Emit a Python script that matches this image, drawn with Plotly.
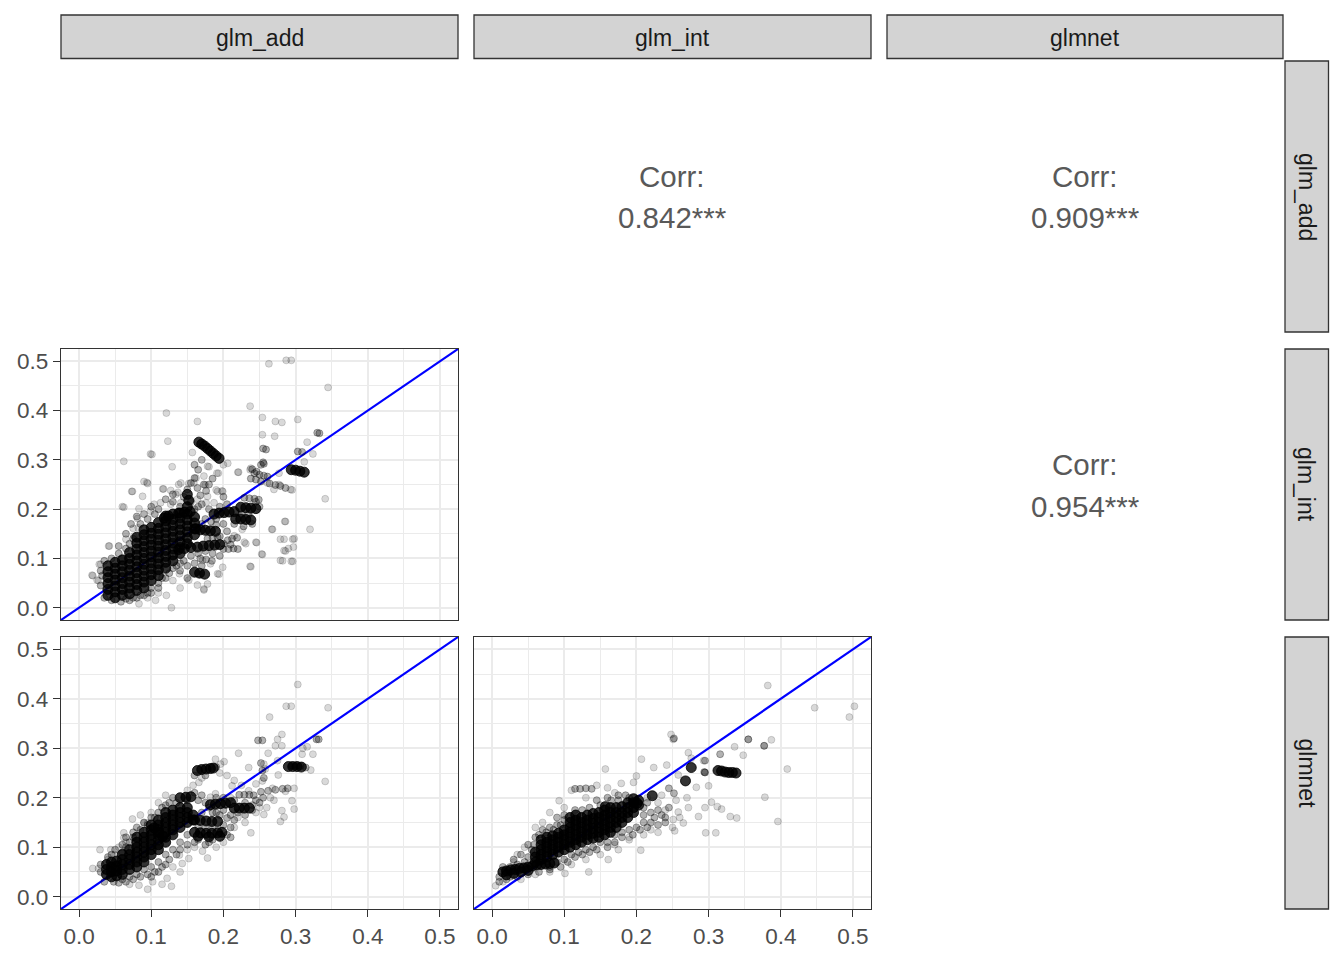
import plotly.graph_objects as go

W, H = 1344, 960
OFF = 8  # page body margin of the html page
FW, FH = W - 2 * OFF, H - 2 * OFF
AX_RANGE = [-0.025, 0.525]

vars_names = ["glm_add", "glm_int", "glmnet"]
corr_labels = {("glm_add", "glm_int"): "0.842***",
               ("glm_add", "glmnet"): "0.909***",
               ("glm_int", "glmnet"): "0.954***"}
tick_vals = [0.0, 0.1, 0.2, 0.3, 0.4, 0.5]

# ---------------- Panel A: x = glm_add, y = glm_int ----------------
A_light = [(0.263,0.495),(0.287,0.502),(0.294,0.502),(0.345,0.447),(0.237,0.409),(0.254,0.386),
(0.303,0.382),(0.272,0.378),(0.281,0.376),(0.121,0.395),(0.164,0.378),(0.123,0.338),(0.254,0.351),
(0.271,0.348),(0.316,0.336),(0.324,0.312),(0.101,0.311),(0.157,0.315),(0.062,0.297),(0.129,0.286),
(0.312,0.296),(0.221,0.275),(0.237,0.280),(0.180,0.286),(0.193,0.273),(0.295,0.239),(0.341,0.221),
(0.268,0.159),(0.320,0.159),(0.286,0.175),(0.284,0.139),(0.298,0.140),(0.290,0.120),(0.286,0.115),
(0.282,0.095),(0.296,0.094),(0.246,0.132),(0.254,0.108),(0.238,0.083),(0.231,0.130),(0.166,0.068),
(0.194,0.068),(0.173,0.038),(0.178,0.048),(0.128,0.000),(0.019,0.065),(0.027,0.055),(0.030,0.088),
(0.042,0.125),(0.062,0.204),(0.074,0.236),(0.090,0.256),(0.095,0.252),(0.117,0.241),(0.127,0.238),
(0.138,0.250),(0.152,0.252),(0.162,0.263),(0.173,0.267),(0.175,0.249),(0.190,0.239),(0.198,0.237),
(0.082,0.162),(0.076,0.145),(0.083,0.008),(0.106,0.015),(0.099,0.312),(0.094,0.254),(0.073,0.236),
(0.088,0.226),(0.060,0.205),(0.083,0.201),(0.081,0.181),(0.075,0.161),(0.065,0.139),(0.041,0.125),
(0.028,0.088),(0.018,0.066),(0.025,0.056),(0.121,0.025),(0.139,0.069),(0.152,0.056),(0.164,0.046),
(0.173,0.036),(0.192,0.069),(0.199,0.082),(0.182,0.089),(0.171,0.096),(0.237,0.084),(0.253,0.109),
(0.245,0.133),(0.229,0.133),(0.226,0.159),(0.215,0.146),(0.267,0.159),(0.285,0.175),(0.279,0.139),
(0.296,0.139),(0.297,0.123),(0.284,0.116),(0.279,0.096),(0.294,0.094),(0.141,0.253),(0.137,0.234),
(0.159,0.253),(0.178,0.287),(0.191,0.273),(0.192,0.236),(0.199,0.236),(0.187,0.213),(0.220,0.275),
(0.238,0.283),(0.200,0.290),(0.206,0.293),(0.116,0.241),(0.134,0.230),(0.099,0.196),(0.104,0.210),
(0.113,0.213),(0.127,0.210),(0.141,0.213),(0.164,0.220),(0.178,0.226),(0.176,0.213),(0.270,0.240),
(0.277,0.250),(0.293,0.240),(0.261,0.253),(0.277,0.273),(0.110,0.030),(0.095,0.020),(0.140,0.040),
(0.130,0.055)]

A_mid = [(0.155,0.253),(0.164,0.243),(0.150,0.240),(0.160,0.263),(0.173,0.250),(0.176,0.237),
(0.168,0.228),(0.229,0.223),(0.236,0.222),(0.243,0.221),(0.249,0.219),(0.243,0.273),(0.250,0.270),
(0.256,0.268),(0.261,0.266),(0.252,0.290),(0.256,0.292),(0.255,0.323),(0.259,0.321),(0.200,0.119),
(0.207,0.119),(0.214,0.120),(0.220,0.119),(0.206,0.137),(0.212,0.140),(0.219,0.142),(0.178,0.140),
(0.185,0.142),(0.192,0.143),(0.168,0.100),(0.176,0.098),(0.184,0.095),(0.060,0.100),(0.055,0.110),
(0.065,0.120),(0.070,0.130),(0.075,0.140),(0.085,0.170),(0.095,0.180),(0.105,0.190),(0.110,0.200),
(0.100,0.040),(0.110,0.050),(0.115,0.060),(0.095,0.030),(0.085,0.025),(0.075,0.020),(0.065,0.018),
(0.125,0.070),(0.135,0.085),(0.145,0.095),(0.155,0.105),(0.165,0.110),(0.175,0.115),(0.150,0.060),
(0.140,0.075),(0.175,0.180),(0.183,0.175),(0.170,0.170),(0.190,0.168),(0.160,0.200),(0.170,0.210),
(0.140,0.205),(0.130,0.215),(0.272,0.249),(0.279,0.247),(0.286,0.243),(0.264,0.252),(0.238,0.262),
(0.245,0.260),(0.252,0.256),(0.303,0.317),(0.309,0.316),(0.330,0.355),(0.333,0.354),(0.255,0.295),
(0.240,0.281),(0.246,0.276),
(0.035,0.095),(0.045,0.100),(0.055,0.125),(0.065,0.150),(0.072,0.170),(0.080,0.185),(0.090,0.190),
(0.100,0.205),(0.120,0.220),(0.130,0.230),(0.145,0.225),(0.155,0.215),(0.165,0.205),(0.180,0.200),
(0.190,0.180),(0.200,0.170),(0.205,0.155),(0.195,0.145),(0.200,0.130),(0.210,0.128),(0.185,0.110),
(0.195,0.105),(0.170,0.085),(0.160,0.090),(0.150,0.085),(0.140,0.090),(0.130,0.080),(0.120,0.060),
(0.110,0.040),(0.100,0.030),(0.090,0.025),(0.080,0.020),(0.070,0.015),(0.058,0.012),(0.045,0.015),
(0.035,0.020),(0.030,0.045),(0.032,0.065),(0.030,0.075),(0.215,0.170),(0.225,0.190),(0.235,0.190),
(0.245,0.215),(0.250,0.205),(0.228,0.165),(0.240,0.170),(0.205,0.210),(0.195,0.205),(0.200,0.225),
(0.180,0.250),(0.185,0.262),(0.165,0.280),(0.170,0.300),(0.160,0.290)]

A_dense = [
(0.040,0.025),(0.040,0.037),(0.040,0.049),(0.040,0.061),(0.040,0.073),(0.040,0.085),
(0.050,0.020),(0.050,0.032),(0.050,0.044),(0.050,0.056),(0.050,0.068),(0.050,0.080),(0.050,0.092),
(0.060,0.025),(0.060,0.037),(0.060,0.049),(0.060,0.061),(0.060,0.073),(0.060,0.085),(0.060,0.097),
(0.070,0.028),(0.070,0.040),(0.070,0.052),(0.070,0.064),(0.070,0.076),(0.070,0.088),(0.070,0.100),(0.070,0.112),
(0.080,0.035),(0.080,0.047),(0.080,0.059),(0.080,0.071),(0.080,0.083),(0.080,0.095),(0.080,0.107),(0.080,0.119),(0.080,0.131),(0.080,0.143),
(0.090,0.040),(0.090,0.052),(0.090,0.064),(0.090,0.076),(0.090,0.088),(0.090,0.100),(0.090,0.112),(0.090,0.124),(0.090,0.136),(0.090,0.148),(0.090,0.158),
(0.100,0.055),(0.100,0.067),(0.100,0.079),(0.100,0.091),(0.100,0.103),(0.100,0.115),(0.100,0.127),(0.100,0.139),(0.100,0.151),(0.100,0.163),
(0.110,0.065),(0.110,0.077),(0.110,0.089),(0.110,0.101),(0.110,0.113),(0.110,0.125),(0.110,0.137),(0.110,0.149),(0.110,0.161),(0.110,0.173),
(0.120,0.080),(0.120,0.092),(0.120,0.104),(0.120,0.116),(0.120,0.128),(0.120,0.140),(0.120,0.152),(0.120,0.164),(0.120,0.176),(0.120,0.186),
(0.130,0.095),(0.130,0.107),(0.130,0.119),(0.130,0.131),(0.130,0.143),(0.130,0.155),(0.130,0.167),(0.130,0.179),(0.130,0.190),
(0.140,0.110),(0.140,0.122),(0.140,0.134),(0.140,0.146),(0.140,0.158),(0.140,0.170),(0.140,0.182),(0.140,0.192),
(0.150,0.130),(0.150,0.142),(0.150,0.154),(0.150,0.166),(0.150,0.178),(0.150,0.190),
(0.160,0.148),(0.160,0.160),(0.160,0.172),(0.160,0.184),
(0.118,0.182),(0.124,0.186),(0.138,0.192),(0.146,0.194),(0.154,0.195),
(0.150,0.205),(0.152,0.218),(0.150,0.230),
(0.162,0.160),(0.168,0.158),(0.175,0.157),(0.182,0.156),(0.189,0.155),
(0.138,0.118),(0.146,0.120),(0.155,0.122),(0.164,0.123),(0.172,0.125),(0.180,0.126),(0.188,0.127),(0.195,0.128),
(0.160,0.072),(0.167,0.070),(0.174,0.068),
(0.187,0.190),(0.194,0.192),(0.201,0.193),(0.208,0.194),(0.215,0.195),
(0.217,0.180),(0.224,0.180),(0.231,0.179),(0.238,0.178),
(0.224,0.204),(0.231,0.203),(0.238,0.202),(0.245,0.201),
(0.166,0.336),(0.170,0.332),(0.174,0.328),(0.178,0.323),(0.182,0.318),(0.186,0.313),(0.190,0.308),(0.194,0.303),
(0.294,0.280),(0.300,0.279),(0.306,0.277),(0.312,0.275)]

# ---------------- Panel B: x = glm_add, y = glmnet ----------------
B_light = [(0.303,0.429),(0.287,0.385),(0.294,0.385),(0.345,0.382),(0.264,0.363),(0.275,0.318),
(0.281,0.328),(0.272,0.305),(0.281,0.305),(0.316,0.303),(0.309,0.288),(0.324,0.288),(0.221,0.290),
(0.235,0.261),(0.256,0.268),(0.258,0.258),(0.276,0.246),(0.321,0.256),(0.341,0.233),(0.254,0.234),
(0.268,0.219),(0.286,0.213),(0.298,0.219),(0.295,0.194),(0.298,0.177),(0.281,0.174),(0.284,0.161),
(0.279,0.152),(0.256,0.166),(0.238,0.129),(0.189,0.278),(0.196,0.268),(0.201,0.273),(0.212,0.224),
(0.152,0.077),(0.143,0.067),(0.139,0.084),(0.171,0.092),(0.178,0.078),(0.128,0.021),(0.083,0.023),
(0.102,0.030),(0.122,0.037),(0.019,0.057),(0.027,0.057),(0.029,0.095),(0.044,0.095),(0.062,0.129),
(0.062,0.119),(0.074,0.157),(0.090,0.149),(0.095,0.149),(0.189,0.208),(0.182,0.201),(0.166,0.231),
(0.235,0.214),(0.245,0.228),(0.170,0.240),(0.158,0.225),(0.150,0.215),(0.195,0.250),(0.205,0.245),
(0.215,0.235),(0.225,0.225),(0.210,0.200),(0.220,0.160),(0.230,0.150),(0.215,0.140),(0.200,0.110),
(0.190,0.100),(0.160,0.100),(0.150,0.095),(0.130,0.060),(0.140,0.050),(0.115,0.025),(0.095,0.015),
(0.070,0.025),(0.040,0.075),(0.050,0.085),(0.055,0.100),(0.065,0.110),(0.085,0.165),(0.100,0.170),
(0.110,0.190),(0.120,0.205),(0.260,0.180),(0.270,0.195),(0.265,0.200),(0.250,0.180),(0.245,0.170),
(0.310,0.300),(0.262,0.290),(0.275,0.275)]

B_mid = [(0.222,0.206),(0.229,0.206),(0.236,0.206),(0.242,0.205),(0.252,0.270),(0.254,0.255),
(0.256,0.240),(0.252,0.212),(0.262,0.214),(0.272,0.216),(0.282,0.218),(0.289,0.219),(0.205,0.159),
(0.210,0.165),(0.215,0.155),(0.295,0.265),(0.301,0.264),(0.307,0.264),(0.314,0.261),(0.130,0.200),
(0.160,0.210),(0.170,0.205),(0.060,0.090),(0.065,0.100),(0.070,0.110),(0.075,0.120),(0.085,0.135),
(0.095,0.145),(0.105,0.160),(0.115,0.180),(0.125,0.190),(0.060,0.035),(0.070,0.040),(0.080,0.045),
(0.090,0.055),(0.100,0.060),(0.110,0.070),(0.120,0.085),(0.130,0.095),(0.140,0.110),(0.150,0.125),
(0.048,0.030),(0.055,0.028),(0.100,0.040),(0.110,0.050),(0.120,0.065),(0.165,0.140),(0.175,0.140),
(0.185,0.140),(0.165,0.115),(0.180,0.110),(0.190,0.170),(0.200,0.175),(0.180,0.180),(0.170,0.170),
(0.230,0.190),(0.240,0.185),(0.245,0.195),(0.248,0.316),(0.254,0.316),(0.329,0.318),(0.332,0.318),
(0.035,0.030),(0.030,0.050),(0.030,0.065),(0.040,0.080),(0.045,0.085),(0.050,0.095),(0.060,0.105),
(0.065,0.120),(0.075,0.130),(0.080,0.140),(0.090,0.150),(0.100,0.160),(0.110,0.170),(0.120,0.185),
(0.135,0.190),(0.150,0.195),(0.165,0.195),(0.175,0.190),(0.185,0.170),(0.195,0.165),(0.200,0.145),
(0.210,0.140),(0.205,0.125),(0.210,0.120),(0.185,0.115),(0.175,0.105),(0.160,0.110),(0.150,0.105),
(0.140,0.095),(0.135,0.085),(0.125,0.075),(0.115,0.060),(0.105,0.050),(0.095,0.045),(0.085,0.040),
(0.075,0.035),(0.065,0.030),(0.220,0.170),(0.230,0.165),(0.240,0.175),(0.250,0.190),(0.255,0.200),
(0.215,0.195),(0.200,0.200),(0.190,0.200),(0.160,0.245),(0.175,0.245),(0.190,0.262)]

B_dense = [
(0.038,0.045),(0.038,0.055),(0.038,0.065),
(0.045,0.040),(0.045,0.050),(0.045,0.060),(0.045,0.070),
(0.052,0.042),(0.052,0.052),(0.052,0.062),(0.052,0.072),
(0.060,0.045),(0.060,0.055),(0.060,0.065),(0.060,0.075),(0.060,0.085),
(0.070,0.055),(0.070,0.065),(0.070,0.075),(0.070,0.085),(0.070,0.095),
(0.080,0.060),(0.080,0.070),(0.080,0.080),(0.080,0.090),(0.080,0.100),(0.080,0.110),(0.080,0.120),
(0.090,0.070),(0.090,0.080),(0.090,0.090),(0.090,0.100),(0.090,0.110),(0.090,0.120),(0.090,0.130),
(0.100,0.085),(0.100,0.095),(0.100,0.105),(0.100,0.115),(0.100,0.125),(0.100,0.135),(0.100,0.145),
(0.110,0.095),(0.110,0.105),(0.110,0.115),(0.110,0.125),(0.110,0.135),(0.110,0.145),(0.110,0.155),
(0.120,0.110),(0.120,0.120),(0.120,0.130),(0.120,0.140),(0.120,0.150),(0.120,0.160),(0.120,0.170),
(0.130,0.125),(0.130,0.135),(0.130,0.145),(0.130,0.155),(0.130,0.165),(0.130,0.175),
(0.140,0.140),(0.140,0.150),(0.140,0.160),(0.140,0.170),(0.140,0.180),
(0.150,0.150),(0.150,0.160),(0.150,0.170),(0.150,0.180),
(0.158,0.155),(0.158,0.165),
(0.160,0.130),(0.168,0.129),(0.176,0.128),(0.184,0.128),(0.192,0.129),(0.198,0.130),
(0.165,0.122),(0.180,0.121),(0.195,0.122),
(0.160,0.155),(0.168,0.154),(0.176,0.153),(0.184,0.152),(0.192,0.152),
(0.182,0.186),(0.189,0.187),(0.196,0.188),(0.203,0.189),(0.210,0.190),
(0.215,0.179),(0.222,0.179),(0.229,0.179),(0.236,0.179),
(0.164,0.255),(0.170,0.257),(0.176,0.258),(0.182,0.259),(0.186,0.260),
(0.290,0.263),(0.296,0.263),(0.302,0.263),(0.308,0.262),
(0.104,0.139),(0.110,0.130),(0.116,0.122),
(0.140,0.200),(0.148,0.201),(0.155,0.202)]

# ---------------- Panel C: x = glm_int, y = glmnet ----------------
C_light = [(0.382,0.427),(0.447,0.382),(0.502,0.385),(0.495,0.363),(0.248,0.328),(0.251,0.318),
(0.355,0.318),(0.387,0.317),(0.377,0.305),(0.336,0.303),(0.348,0.286),(0.409,0.258),(0.378,0.201),
(0.396,0.152),(0.296,0.129),(0.310,0.129),(0.330,0.162),(0.339,0.159),(0.318,0.177),(0.312,0.182),
(0.304,0.191),(0.286,0.162),(0.295,0.180),(0.272,0.180),(0.258,0.171),(0.251,0.156),(0.265,0.149),
(0.253,0.133),(0.283,0.221),(0.300,0.224),(0.272,0.291),(0.276,0.280),(0.293,0.275),(0.295,0.251),
(0.258,0.246),(0.242,0.266),(0.224,0.261),(0.207,0.278),(0.157,0.258),(0.206,0.094),(0.161,0.075),
(0.134,0.050),(0.101,0.047),(0.093,0.194),(0.005,0.022),(0.179,0.229),(0.196,0.231),(0.200,0.244),
(0.110,0.215),(0.145,0.225),(0.160,0.220),(0.170,0.210),(0.130,0.200),(0.100,0.180),(0.080,0.170),
(0.070,0.150),(0.060,0.140),(0.045,0.100),(0.035,0.085),(0.030,0.070),(0.015,0.030),(0.040,0.035),
(0.060,0.045),(0.080,0.050),(0.110,0.065),(0.130,0.075),(0.150,0.085),(0.175,0.095),(0.170,0.105),
(0.190,0.115),(0.210,0.125),(0.230,0.130),(0.250,0.140),(0.260,0.160),(0.240,0.175),(0.230,0.190),
(0.215,0.200),(0.235,0.205),(0.255,0.195),(0.270,0.200),(0.190,0.120),(0.220,0.135)]

C_mid = [(0.294,0.252),(0.245,0.219),(0.252,0.209),(0.316,0.288),(0.295,0.275),(0.295,0.251),
(0.115,0.218),(0.122,0.218),(0.130,0.219),(0.138,0.218),(0.050,0.080),(0.055,0.095),(0.045,0.070),
(0.058,0.105),(0.065,0.125),(0.075,0.130),(0.085,0.135),(0.095,0.145),(0.100,0.155),(0.090,0.160),
(0.080,0.060),(0.090,0.070),(0.100,0.075),(0.110,0.085),(0.120,0.090),(0.130,0.095),(0.140,0.100),
(0.150,0.110),(0.160,0.110),(0.170,0.125),(0.180,0.130),(0.190,0.135),(0.200,0.140),(0.210,0.150),
(0.220,0.150),(0.230,0.145),(0.240,0.150),(0.210,0.165),(0.220,0.170),(0.230,0.175),(0.240,0.160),
(0.025,0.040),(0.010,0.040),(0.035,0.065),(0.145,0.195),(0.160,0.200),(0.175,0.195),(0.185,0.205),
(0.355,0.318),(0.377,0.305),(0.252,0.320),
(0.010,0.030),(0.020,0.035),(0.035,0.040),(0.050,0.045),(0.065,0.050),(0.080,0.055),(0.095,0.060),
(0.105,0.070),(0.115,0.080),(0.125,0.085),(0.135,0.090),(0.145,0.095),(0.160,0.100),(0.170,0.110),
(0.180,0.120),(0.195,0.125),(0.205,0.135),(0.215,0.140),(0.225,0.160),(0.235,0.165),(0.245,0.180),
(0.210,0.180),(0.215,0.190),(0.190,0.200),(0.175,0.205),(0.165,0.195),(0.150,0.185),(0.135,0.180),
(0.125,0.175),(0.115,0.175),(0.100,0.165),(0.090,0.145),(0.080,0.140),(0.070,0.135),(0.060,0.120),
(0.050,0.105),(0.040,0.085),(0.030,0.075),(0.025,0.060),(0.015,0.060)]

C_dense = [
(0.015,0.050),(0.020,0.052),(0.026,0.054),(0.032,0.055),(0.038,0.057),(0.044,0.058),(0.050,0.060),
(0.056,0.062),(0.062,0.064),(0.068,0.065),(0.074,0.066),(0.080,0.067),(0.086,0.068),
(0.020,0.044),(0.030,0.047),(0.040,0.050),(0.050,0.053),
(0.060,0.070),(0.060,0.080),(0.060,0.090),
(0.068,0.075),(0.068,0.085),(0.068,0.095),(0.068,0.105),(0.068,0.115),
(0.076,0.080),(0.076,0.090),(0.076,0.100),(0.076,0.110),(0.076,0.120),
(0.084,0.085),(0.084,0.095),(0.084,0.105),(0.084,0.115),(0.084,0.123),
(0.092,0.090),(0.092,0.100),(0.092,0.110),(0.092,0.120),(0.092,0.128),
(0.100,0.095),(0.100,0.105),(0.100,0.115),(0.100,0.125),(0.100,0.135),
(0.108,0.100),(0.108,0.110),(0.108,0.120),(0.108,0.130),(0.108,0.140),(0.108,0.150),(0.108,0.160),
(0.116,0.105),(0.116,0.115),(0.116,0.125),(0.116,0.135),(0.116,0.145),(0.116,0.155),(0.116,0.165),
(0.124,0.110),(0.124,0.120),(0.124,0.130),(0.124,0.140),(0.124,0.150),(0.124,0.160),
(0.132,0.115),(0.132,0.125),(0.132,0.135),(0.132,0.145),(0.132,0.155),(0.132,0.165),
(0.140,0.118),(0.140,0.128),(0.140,0.138),(0.140,0.148),(0.140,0.158),(0.140,0.168),
(0.148,0.120),(0.148,0.130),(0.148,0.140),(0.148,0.150),(0.148,0.160),(0.148,0.170),
(0.156,0.125),(0.156,0.135),(0.156,0.145),(0.156,0.155),(0.156,0.165),(0.156,0.175),
(0.164,0.130),(0.164,0.140),(0.164,0.150),(0.164,0.160),(0.164,0.170),(0.164,0.180),
(0.172,0.140),(0.172,0.150),(0.172,0.160),(0.172,0.170),(0.172,0.180),
(0.180,0.150),(0.180,0.160),(0.180,0.170),(0.180,0.182),
(0.188,0.160),(0.188,0.170),(0.188,0.180),(0.188,0.190),
(0.196,0.170),(0.196,0.180),(0.196,0.190),(0.196,0.198),
(0.203,0.185),(0.203,0.195),
(0.157,0.182),(0.222,0.204),(0.201,0.189),(0.276,0.261),(0.268,0.234),
(0.313,0.255),(0.318,0.254),(0.323,0.252),(0.328,0.251),(0.333,0.251),(0.338,0.250)]

# ---------------- layout geometry (window pixels) ----------------
COL = {1: (61, 458), 2: (474, 871), 3: (887, 1283)}
ROW = {1: (61, 332), 2: (349, 620), 3: (637, 909)}


def px(p):
    return (p - OFF) / FW


def py(p):
    return 1 - (p - OFF) / FH


def dom_x(c):
    return [px(COL[c][0]), px(COL[c][1])]


def dom_y(r):
    return [py(ROW[r][1]), py(ROW[r][0])]


def xs(pts):
    return [p[0] for p in pts]


def ys(pts):
    return [p[1] for p in pts]


FONT = "Liberation Sans, Arial, Helvetica, sans-serif"
fig = go.Figure()

panels = [
    ("x", "y", A_light, A_mid, A_dense),
    ("x2", "y2", B_light, B_mid, B_dense),
    ("x3", "y3", C_light, C_mid, C_dense),
]

for xa, ya, light, mid, dense in panels:
    fig.add_trace(go.Scatter(x=AX_RANGE, y=AX_RANGE, mode="lines", xaxis=xa, yaxis=ya,
                             line=dict(color="#0000FF", width=2.2), hoverinfo="skip", showlegend=False))
    for pts, a, sz in ((light, 0.15, 7), (mid, 0.3, 7), (dense, 0.8, 10)):
        fig.add_trace(go.Scatter(
            x=xs(pts), y=ys(pts), mode="markers", xaxis=xa, yaxis=ya, showlegend=False,
            marker=dict(size=sz, color=f"rgba(0,0,0,{a})",
                        line=dict(color=f"rgba(0,0,0,{a})", width=1))))


def axis(domain, show_labels, anchor):
    d = dict(domain=domain, range=AX_RANGE, anchor=anchor, tickvals=tick_vals,
             tickformat=".1f", showgrid=True, gridcolor="#EBEBEB", gridwidth=2.2,
             minor=dict(dtick=0.05, tick0=0, showgrid=True, gridcolor="#EBEBEB", gridwidth=1.2),
             zeroline=False, showline=True, linecolor="#333333", linewidth=1.3, mirror=True,
             tickfont=dict(family=FONT, size=22.5, color="#4D4D4D"))
    if show_labels:
        d.update(ticks="outside", ticklen=7, tickwidth=1.3, tickcolor="#333333",
                 showticklabels=True)
    else:
        d.update(ticks="", showticklabels=False)
    return d


fig.update_layout(
    width=FW, height=FH, margin=dict(l=0, r=0, t=0, b=0),
    paper_bgcolor="white", plot_bgcolor="white",
    xaxis=axis(dom_x(1), False, "y"), yaxis=axis(dom_y(2), True, "x"),
    xaxis2=axis(dom_x(1), True, "y2"), yaxis2=axis(dom_y(3), True, "x2"),
    xaxis3=axis(dom_x(2), True, "y3"), yaxis3=axis(dom_y(3), False, "x3"),
)

shapes = []
annotations = []
STRIP_FILL = "#D3D3D3"
for c in (1, 2, 3):
    shapes.append(dict(type="rect", xref="paper", yref="paper",
                       x0=px(COL[c][0]), x1=px(COL[c][1]), y0=py(58.5), y1=py(15),
                       fillcolor=STRIP_FILL, line=dict(color="#333333", width=1.3)))
    annotations.append(dict(xref="paper", yref="paper", x=px((COL[c][0] + COL[c][1]) / 2),
                            y=py(37.5), xanchor="center", yanchor="middle",
                            text=vars_names[c - 1], showarrow=False,
                            font=dict(family=FONT, size=23, color="#1A1A1A")))
for r in (1, 2, 3):
    shapes.append(dict(type="rect", xref="paper", yref="paper",
                       x0=px(1285), x1=px(1328.5), y0=py(ROW[r][1]), y1=py(ROW[r][0]),
                       fillcolor=STRIP_FILL, line=dict(color="#333333", width=1.3)))
    annotations.append(dict(xref="paper", yref="paper", x=px(1306.5),
                            y=py((ROW[r][0] + ROW[r][1]) / 2), xanchor="center",
                            yanchor="middle", text=vars_names[r - 1],
                            textangle=90, showarrow=False,
                            font=dict(family=FONT, size=23, color="#1A1A1A")))

# correlation labels in the upper triangle
for (vx, vy), lab in corr_labels.items():
    c = vars_names.index(vy) + 1
    r = vars_names.index(vx) + 1
    cx = px((COL[c][0] + COL[c][1]) / 2)
    cy = (ROW[r][0] + ROW[r][1]) / 2
    annotations.append(dict(xref="paper", yref="paper", x=cx, y=py(cy - 20),
                            xanchor="center", yanchor="middle",
                            text="Corr:", showarrow=False,
                            font=dict(family=FONT, size=29.5, color="#595959")))
    annotations.append(dict(xref="paper", yref="paper", x=cx, y=py(cy + 21.5),
                            xanchor="center", yanchor="middle",
                            text=lab, showarrow=False,
                            font=dict(family=FONT, size=29.5, color="#595959")))

fig.update_layout(shapes=shapes, annotations=annotations)
fig.write_html("out.html")
